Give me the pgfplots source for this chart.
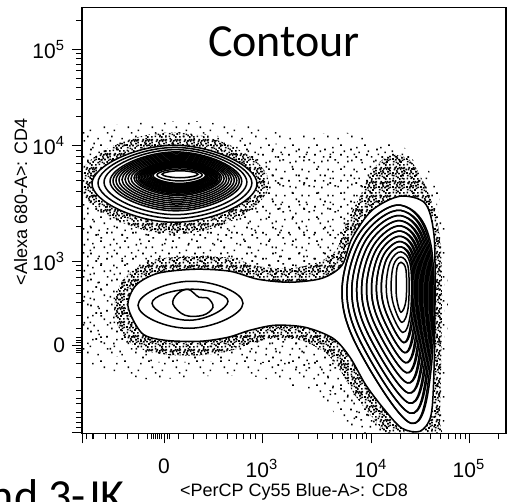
\documentclass[border=0pt]{standalone}
\usepackage{fontspec}
\setmainfont{Liberation Sans}
\newfontfamily\carlito{Carlito}
\usepackage{pgfplots}
\pgfplotsset{compat=1.18}
\usetikzlibrary{patterns}
\def\dt#1#2{\pgfpathrectangle{\pgfqpoint{#1pt}{#2pt}}{\pgfqpoint{0.85pt}{0.85pt}}}
\pgfdeclarepatternformonly{spA}{\pgfqpoint{0pt}{0pt}}{\pgfqpoint{12pt}{12pt}}{\pgfqpoint{12pt}{12pt}}{%
\dt{0.7}{1.3}\dt{3.9}{7.2}\dt{7.8}{2.4}\dt{10.4}{9.1}\dt{2.2}{10.4}\dt{5.6}{4.3}\dt{9.1}{5.6}\pgfusepath{fill}}
\pgfdeclarepatternformonly{spB}{\pgfqpoint{0pt}{0pt}}{\pgfqpoint{13pt}{13pt}}{\pgfqpoint{13pt}{13pt}}{%
\dt{1.1}{4.4}\dt{4.7}{0.9}\dt{7.9}{10.2}\dt{10.5}{5.6}\dt{2.9}{11.6}\dt{6.3}{7.1}\dt{11.6}{1.7}\dt{9.0}{3.2}\pgfusepath{fill}}
\pgfdeclarepatternformonly{dense}{\pgfqpoint{0pt}{0pt}}{\pgfqpoint{7pt}{7pt}}{\pgfqpoint{7pt}{7pt}}{%
\dt{0.3}{0.4}\dt{1.6}{2.9}\dt{2.8}{0.9}\dt{4.4}{1.7}\dt{5.9}{0.2}\dt{6.1}{3.1}\dt{0.9}{5.2}\dt{2.2}{4.6}%
\dt{3.5}{6.1}\dt{4.9}{4.0}\dt{5.6}{5.8}\dt{0.1}{3.3}\dt{3.3}{3.0}\dt{1.3}{6.1}\dt{6.1}{6.1}\dt{4.2}{5.3}%
\dt{1.9}{1.5}\dt{5.2}{2.6}\dt{2.7}{5.5}\dt{0.5}{1.9}\dt{6.0}{4.6}\dt{3.8}{0.1}\dt{4.6}{6.1}\dt{2.4}{3.7}\pgfusepath{fill}}
\begin{document}
\begin{tikzpicture}
\useasboundingbox (0,0) rectangle (254pt,-251pt);
\clip (0,0) rectangle (254pt,-251pt);
\begin{axis}[
  at={(147pt,-110.25pt)}, anchor=center,
  scale only axis, width=212pt, height=212.75pt,
  xmin=82, xmax=506, ymin=7.5, ymax=433, y dir=reverse,
  axis line style={line width=0.65pt},
  tick pos=left, tick align=outside,
  major tick length=5pt, minor tick length=3pt,
  every tick/.style={black, line width=0.5pt},
  xtick={83,164,262,371,469},
  xticklabels={{},0,10\textsuperscript{3},10\textsuperscript{4},10\textsuperscript{5}},
  minor xtick={87,93,105,115,127,138,147,151,153,155,157,159,161,167,169,178,193,206,216,227,236,243,250,255,298,317,332,342,350,356,362,366,400,418,430,440,448,455,460,465,498},
  ytick={49,145,261,345,432},
  yticklabels={10\textsuperscript{5},10\textsuperscript{4},10\textsuperscript{3},0,{}},
  minor ytick={20,53,58,64,70,78,87,99,116,150,156,163,171,180,191,206,226,265,270,277,285,293,302,315,328,337,340,342,348,350,352,363,377,390,398,403,412,417,422,427},
  ticklabel style={font=\fontsize{10.5}{12}\selectfont},
  xticklabel style={yshift=-4.5pt},
  contour/.style={draw=black, line width=0.75pt},
]
% scattered events (low density envelopes)
\addplot[draw=none, pattern=spA] coordinates {(84,128) (140,122) (200,121) (250,126) (300,135) (345,132) (380,140) (412,150) (435,178) (446,230) (448,300) (446,380) (444,434) (345,434) (330,405) (300,388) (250,375) (200,376) (150,380) (110,372) (82,365) (82,128)} -- cycle;
\addplot[draw=none, pattern=spB] coordinates {(82,140) (200,133) (260,142) (330,148) (372,143) (410,155) (436,195) (444,260) (444,360) (442,434) (360,434) (332,392) (290,368) (250,360) (200,362) (140,362) (100,352) (82,340)} -- cycle;
% dense halos
\addplot[draw=none, pattern=dense, smooth cycle, tension=0.83] coordinates {(78,181) (174,234) (269,183) (174,132)};
\addplot[draw=none, pattern=dense, smooth cycle, tension=0.5] coordinates {(114,306) (124,278) (152,260) (195,256) (232,258) (258,266) (290,268) (318,262) (336,250) (345,225) (360,196) (372,170) (390,155) (410,160) (425,185) (436,215) (441,250) (442,300) (441,370) (440,420) (440,440) (395,440) (375,420) (355,395) (340,370) (325,352) (300,340) (275,338) (252,343) (232,350) (200,355) (162,354) (135,346) (120,330)};
% CD4 population contours
\addplot[contour, fill=white, smooth cycle, tension=0.83] coordinates {(92,183.5) (174.5,222) (257,183.5) (174.5,145)};
\addplot[contour, smooth cycle, tension=0.83] coordinates {(98,182.7) (175,218.2) (251.9,182.7) (175,147.2)};
\addplot[contour, smooth cycle, tension=0.83] coordinates {(104,181.9) (175.5,214.4) (246.9,181.9) (175.5,149.4)};
\addplot[contour, smooth cycle, tension=0.83] coordinates {(110,181.1) (175.9,210.6) (241.8,181.1) (175.9,151.6)};
\addplot[contour, smooth cycle, tension=0.83] coordinates {(113,180.65) (176.15,208.65) (239.3,180.65) (176.15,152.65)};
\addplot[contour, smooth cycle, tension=0.83] coordinates {(116,180.2) (176.4,206.7) (236.8,180.2) (176.4,153.7)};
\addplot[contour, smooth cycle, tension=0.83] coordinates {(119,179.8) (176.65,204.8) (234.25,179.8) (176.65,154.8)};
\addplot[contour, smooth cycle, tension=0.83] coordinates {(122,179.4) (176.9,202.9) (231.7,179.4) (176.9,155.9)};
\addplot[contour, smooth cycle, tension=0.83] coordinates {(125,179) (177.15,201) (229.2,179) (177.15,157)};
\addplot[contour, smooth cycle, tension=0.83] coordinates {(128,178.6) (177.4,199.1) (226.7,178.6) (177.4,158.1)};
\addplot[contour, smooth cycle, tension=0.83] coordinates {(131,178.2) (177.6,197.2) (224.15,178.2) (177.6,159.2)};
\addplot[contour, smooth cycle, tension=0.83] coordinates {(134,177.8) (177.8,195.3) (221.6,177.8) (177.8,160.3)};
\addplot[contour, smooth cycle, tension=0.83] coordinates {(136,177.55) (177.95,194.05) (219.9,177.55) (177.95,161.05)};
\addplot[contour, smooth cycle, tension=0.83] coordinates {(138,177.3) (178.1,192.8) (218.2,177.3) (178.1,161.8)};
\addplot[contour, smooth cycle, tension=0.83] coordinates {(139.5,177.1) (178.25,191.85) (216.95,177.1) (178.25,162.35)};
\addplot[contour, smooth cycle, tension=0.83] coordinates {(141,176.9) (178.4,190.9) (215.7,176.9) (178.4,162.9)};
\addplot[contour, smooth cycle, tension=0.83] coordinates {(142.5,176.7) (178.5,189.95) (214.45,176.7) (178.5,163.4)};
\addplot[contour, smooth cycle, tension=0.83] coordinates {(144,176.5) (178.6,189) (213.2,176.5) (178.6,163.9)};
\addplot[contour, smooth cycle, tension=0.83] coordinates {(145.5,176.25) (178.7,188) (211.9,176.25) (178.7,164.45)};
\addplot[contour, smooth cycle, tension=0.83] coordinates {(147,176) (178.8,187) (210.6,176) (178.8,165)};
\addplot[contour, smooth cycle, tension=0.83] coordinates {(148.5,175.8) (178.95,186.05) (209.35,175.8) (178.95,165.55)};
\addplot[contour, smooth cycle, tension=0.83] coordinates {(150,175.6) (179.1,185.1) (208.1,175.6) (179.1,166.1)};
\addplot[contour, smooth cycle, tension=0.83] coordinates {(151.5,175.4) (179.2,184.15) (206.85,175.4) (179.2,166.65)};
\addplot[contour, smooth cycle, tension=0.83] coordinates {(153,175.2) (179.3,183.2) (205.6,175.2) (179.3,167.2)};
\addplot[contour, smooth cycle, tension=0.83] coordinates {(157,174.7) (179.6,180.7) (202.2,174.7) (179.6,168.7)};
\addplot[contour, smooth cycle, tension=0.83] coordinates {(162,174) (180,177.5) (198,174) (180,170.5)};
% outer contour joining the CD4-CD8- and CD8 populations
\addplot[contour, fill=white, smooth cycle, tension=0.5] coordinates {(128,306) (136,285) (158,273) (195,269) (230,271) (258,279) (290,282) (322,278) (342,265) (352,238) (372,210) (400,196) (425,203) (434,235) (435,300) (434,370) (431,415) (420,431) (402,428) (385,410) (366,385) (350,357) (333,338) (305,327) (275,325) (250,330) (228,337) (200,341) (165,340) (142,333)};
% CD4-CD8- population
\addplot[contour, smooth cycle, tension=0.83] coordinates {(138,305) (190,328) (243,303) (190,281)};
\addplot[contour, smooth cycle, tension=0.83] coordinates {(152,303) (190,320) (228,301) (190,289)};
\addplot[contour, smooth cycle, tension=0.6] coordinates {(173,304) (185,315) (203,315) (213,307) (208,298) (199,297) (188,289) (177,294)};
% CD8 population
\addplot[contour, smooth cycle, tension=0.6] coordinates {(342,290) (360,232) (401,205) (431,245) (431,370) (411,423) (358,348)};
\addplot[contour, smooth cycle, tension=0.6] coordinates {(342,290) (360,232) (401,205) (429.85,246.15) (429.85,366.8) (411,423) (358,348)};
\addplot[contour, smooth cycle, tension=0.6] coordinates {(346.9,289.5) (363.4,235.3) (401,210.2) (428.7,247.3) (428.7,363.6) (410.1,412.9) (361.5,343.6)};
\addplot[contour, smooth cycle, tension=0.6] coordinates {(346.9,289.5) (363.4,235.3) (401,210.2) (427.6,248.4) (427.6,360.45) (410.1,412.9) (361.5,343.6)};
\addplot[contour, smooth cycle, tension=0.6] coordinates {(351.8,289.1) (366.7,238.5) (401,215.4) (426.5,249.5) (426.5,357.3) (409.2,402.8) (365.1,339.3)};
\addplot[contour, smooth cycle, tension=0.6] coordinates {(351.8,289.1) (366.7,238.5) (401,215.4) (425.35,250.65) (425.35,354.1) (409.2,402.8) (365.1,339.3)};
\addplot[contour, smooth cycle, tension=0.6] coordinates {(356.7,288.6) (370.1,241.8) (401,220.5) (424.2,251.8) (424.2,350.9) (408.3,392.7) (368.6,334.9)};
\addplot[contour, smooth cycle, tension=0.6] coordinates {(356.7,288.6) (370.1,241.8) (401,220.5) (423.05,252.95) (423.05,347.7) (408.3,392.7) (368.6,334.9)};
\addplot[contour, smooth cycle, tension=0.6] coordinates {(361.6,288.2) (373.5,245.1) (401,225.7) (421.9,254.1) (421.9,344.5) (407.4,382.6) (372.2,330.5)};
\addplot[contour, smooth cycle, tension=0.6] coordinates {(361.6,288.2) (373.5,245.1) (401,225.7) (420.75,255.25) (420.75,341.35) (407.4,382.6) (372.2,330.5)};
\addplot[contour, smooth cycle, tension=0.6] coordinates {(366.5,287.7) (376.8,248.4) (401,230.9) (419.6,256.4) (419.6,338.2) (406.5,372.5) (375.7,326.2)};
\addplot[contour, smooth cycle, tension=0.6] coordinates {(366.5,287.7) (376.8,248.4) (401,230.9) (418.5,257.5) (418.5,335) (406.5,372.5) (375.7,326.2)};
\addplot[contour, smooth cycle, tension=0.6] coordinates {(371.5,287.3) (380.2,251.6) (401,236.1) (417.4,258.6) (417.4,331.8) (405.5,362.5) (379.3,321.8)};
\addplot[contour, smooth cycle, tension=0.6] coordinates {(371.5,287.3) (380.2,251.6) (401,236.1) (416.25,259.75) (416.25,328.65) (405.5,362.5) (379.3,321.8)};
\addplot[contour, smooth cycle, tension=0.6] coordinates {(376.4,286.8) (383.5,254.9) (401,241.3) (415.1,260.9) (415.1,325.5) (404.6,352.4) (382.8,317.5)};
\addplot[contour, smooth cycle, tension=0.6] coordinates {(376.4,286.8) (383.5,254.9) (401,241.3) (413.95,262.05) (413.95,322.3) (404.6,352.4) (382.8,317.5)};
\addplot[contour, smooth cycle, tension=0.6] coordinates {(381.3,286.4) (386.9,258.2) (401,246.5) (412.8,263.2) (412.8,319.1) (403.7,342.3) (386.4,313.1)};
\addplot[contour, smooth cycle, tension=0.6] coordinates {(381.3,286.4) (386.9,258.2) (401,246.5) (411.65,264.35) (411.65,315.9) (403.7,342.3) (386.4,313.1)};
\addplot[contour, smooth cycle, tension=0.6] coordinates {(386.2,285.9) (390.3,261.5) (401,251.6) (410.5,265.5) (410.5,312.7) (402.8,332.2) (389.9,308.7)};
\addplot[contour, smooth cycle, tension=0.6] coordinates {(391.1,285.5) (393.6,264.7) (401,256.8) (408.3,267.7) (408.3,306.4) (401.9,322.1) (393.5,304.4)};
\addplot[contour, smooth cycle, tension=0.6] coordinates {(396,285) (397,268) (401,262) (406,270) (406,300) (401,312) (397,300)};
\end{axis}
\node[anchor=base, font=\carlito\fontsize{23}{26}\selectfont, inner sep=0pt] at (142pt,-28.5pt) {Contour};
\node[rotate=90, anchor=base, font=\fontsize{9}{10}\selectfont, inner sep=0pt] at (13.5pt,-101pt) {<Alexa 680-A>: CD4};
\node[anchor=base, font=\fontsize{9}{10}\selectfont, inner sep=0pt] at (147pt,-248pt) {<PerCP Cy55 Blue-A>: CD8};
\node[anchor=base east, font=\carlito\fontsize{23}{26}\selectfont, inner sep=0pt] at (62.5pt,-255.5pt) {nd 3-JK};
\end{tikzpicture}
\end{document}
